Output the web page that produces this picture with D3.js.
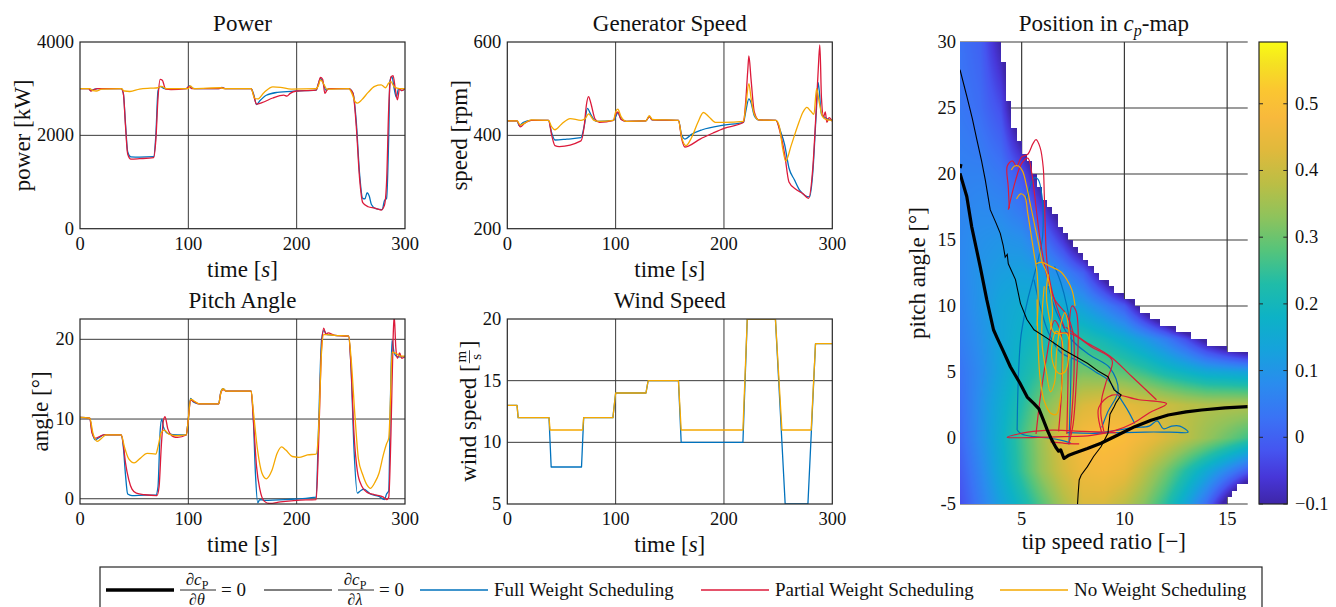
<!DOCTYPE html>
<html>
<head>
<meta charset="utf-8">
<script src="https://cdn.jsdelivr.net/npm/d3@7"></script>
<style>
  body { margin: 0; background: #fff; }
  text { font-family: 'Liberation Serif', 'DejaVu Serif', serif; fill: #111; }
</style>
</head>
<body>
<svg id="fig" width="1336" height="607"></svg>
<script>
// ---------- data ----------
var timeTicks = [0, 100, 200, 300];

var powerFull = [[0,3000],[8,3000],[10,2960],[13,2985],[16,3000],[38,3000],[40,2900],[42,2250],[44,1650],[47,1540],[55,1535],[68,1545],[70,2000],[72,2950],[74,3050],[78,3000],[98,3000],[101,3060],[103,3010],[106,3000],[128,3000],[131,3030],[134,3000],[158,3000],[160,2900],[163,2660],[166,2740],[172,2860],[182,2920],[200,2950],[218,2970],[220,3100],[222,3220],[224,3150],[227,2970],[230,3000],[248,3000],[252,2900],[255,2300],[258,1200],[261,650],[263,640],[265,770],[267,700],[269,520],[273,430],[279,410],[281,600],[283,650],[285,2000],[286,3150],[288,3260],[290,3000],[292,2820],[294,3000],[297,2960],[300,3000]];
var powerPartial = [[0,3000],[8,3000],[10,2950],[13,2980],[16,3000],[38,3000],[40,2900],[42,2200],[44,1600],[47,1490],[55,1500],[68,1525],[70,1900],[72,2800],[74,3200],[76,3180],[79,2990],[84,2980],[98,3000],[101,3050],[103,3000],[128,3000],[131,3020],[134,3000],[158,3000],[160,2880],[163,2670],[168,2700],[178,2800],[188,2860],[191,2840],[194,2900],[200,2950],[218,2970],[220,3100],[222,3240],[224,3200],[226,2900],[228,2970],[230,3000],[248,3000],[252,2900],[255,2200],[258,1100],[261,560],[266,470],[272,440],[278,400],[281,500],[283,1000],[285,2600],[287,3250],[289,3280],[291,3000],[293,2760],[295,3000],[297,2960],[300,3000]];
var powerNo = [[0,3000],[9,3000],[12,2960],[15,2950],[20,2990],[38,3000],[41,2950],[46,2940],[55,2990],[65,3010],[72,3020],[75,3050],[80,3000],[100,3000],[102,3060],[105,3000],[130,3020],[133,3000],[158,3000],[161,2800],[164,2780],[170,2920],[178,3040],[185,3030],[195,2990],[218,3000],[220,3060],[222,3190],[225,3100],[228,2990],[248,3000],[251,2900],[254,2720],[256,2690],[260,2760],[266,2920],[272,3050],[278,3080],[282,3020],[285,3120],[287,3150],[290,3040],[295,3000],[300,3000]];

var speedFull = [[0,431],[9,431],[11,421],[15,428],[22,432],[38,432],[41,405],[44,390],[55,392],[68,395],[71,420],[74,458],[77,445],[82,430],[98,432],[100,440],[102,448],[105,435],[110,430],[128,431],[131,440],[134,433],[158,432],[161,400],[164,392],[170,402],[180,412],[200,422],[218,428],[220,450],[223,478],[225,470],[228,442],[232,433],[248,432],[252,410],[256,380],[260,330],[265,305],[270,282],[279,268],[282,320],[285,440],[287,513],[290,445],[295,436],[300,432]];
var speedPartial = [[0,431],[9,431],[12,418],[16,426],[22,432],[38,432],[41,400],[44,378],[48,376],[68,388],[71,420],[73,465],[75,483],[77,470],[81,435],[85,428],[98,432],[100,445],[102,450],[105,434],[110,430],[128,431],[131,440],[134,433],[158,432],[161,392],[164,375],[168,378],[178,392],[190,405],[200,415],[218,428],[220,470],[222,540],[223,570],[225,520],[228,450],[232,433],[248,432],[252,405],[256,360],[260,300],[266,285],[273,275],[278,265],[282,330],[285,450],[287,540],[288.5,594],[290,480],[292,440],[293.5,450],[295,428],[297,438],[300,430]];
var speedNo = [[0,431],[9,431],[12,422],[16,426],[22,433],[38,432],[41,418],[44,412],[50,424],[58,436],[68,432],[72,436],[75,446],[80,432],[85,430],[98,432],[100,450],[102,456],[105,440],[110,430],[128,431],[131,442],[134,434],[158,432],[161,395],[165,378],[170,395],[176,428],[181,449],[186,440],[192,428],[200,428],[218,430],[220,460],[223,511],[225,480],[228,445],[232,433],[248,432],[251,420],[254,375],[257,345],[262,378],[268,420],[273,450],[276.5,460],[280,452],[283,445],[285.5,500],[288,470],[291,440],[295,433],[300,432]];

var pitchFull = [[0,10.2],[9,10.1],[11,8.5],[14,7.4],[18,7.7],[22,8.0],[38,8.0],[40,6.5],[42,3],[44,0.6],[48,0.4],[60,0.45],[70,0.45],[72,1.5],[74,8.5],[75.5,10.0],[77,9],[81,8.2],[90,8.0],[98,8.0],[100,10],[102,12.6],[105,12.1],[110,11.9],[128,11.9],[130,13.4],[132,13.8],[135,13.5],[158,13.5],[160,10],[162,3],[164,-0.5],[166,-0.1],[170,-0.2],[190,-0.1],[218,0.2],[220,8],[223,20],[225,21.1],[228,20.6],[235,20.5],[248,20.4],[250,17],[253,6],[256,0.7],[259,1.0],[262,1.2],[268,0.6],[276,0.3],[281,-0.1],[283,0.6],[285,1],[286.5,12],[288,19.9],[290,18.3],[293,17.8],[300,17.8]];
var pitchPartial = [[0,10.2],[9,10.1],[11,8.3],[14,7.6],[18,7.8],[22,8.0],[38,8.0],[40,6.8],[42,4.5],[45,2.4],[48,1.2],[52,0.7],[60,0.5],[71,0.4],[73,1.5],[75,6.5],[77,9.8],[78.5,10.3],[81,8.8],[86,7.8],[90,7.7],[98,8.0],[100,10],[102,12.4],[105,12.2],[110,11.9],[128,11.9],[130,13.3],[132,13.7],[135,13.5],[158,13.5],[160,10],[163,4],[166,1.2],[170,-0.3],[175,-0.6],[185,-0.4],[200,-0.2],[218,-0.1],[220,6],[223,19],[225,21.4],[227,20.6],[229,20.8],[235,20.5],[248,20.4],[250,17],[253,8],[256,3.5],[260,1.6],[265,0.8],[272,0.5],[280,0.2],[283,-0.1],[285,0.2],[287,8],[289,20],[290,23],[291.5,19],[293,17.6],[295,18.3],[297,17.6],[300,17.9]];
var pitchNo = [[0,10.2],[9,10.1],[12,8.2],[16,7.2],[20,7.6],[24,8.0],[38,8.0],[41,6.5],[45,5.0],[50,4.5],[55,5.0],[62,5.7],[70,5.6],[72,6.5],[75,8.3],[78,8.6],[82,8.1],[90,7.9],[98,8.0],[100,10],[102,12.5],[105,12.3],[110,11.9],[128,11.9],[130,13.3],[132,13.8],[135,13.5],[158,13.5],[160,11],[164,6],[168,3.2],[172,2.5],[177,3.5],[182,5.7],[186,6.5],[190,6.1],[196,5.3],[202,5.2],[210,5.5],[218,5.6],[220,8],[223,18.5],[225,20.6],[228,20.6],[235,20.5],[248,20.4],[250,18],[254,10],[257,5],[261,3],[265,1.7],[268,1.3],[272,2.0],[276,3.2],[280,5.5],[283,6.9],[285,7.6],[286.5,12],[288,18.4],[292,18.2],[296,17.9],[300,17.9]];

var windFull = [[0,13],[9,13],[10,12],[38.5,12],[40.5,8],[68.5,8],[70.5,12],[97.5,12],[100,14],[128,14],[130,15],[158,15],[160.5,10],[217.5,10],[221.5,20],[247.5,20],[256.5,5],[277.5,5],[284.5,18],[300,18]];
var windNo = [[0,13],[9,13],[10,12],[38.5,12],[39.5,11],[69.5,11],[70.5,12],[97.5,12],[100,14],[128,14],[130,15],[158,15],[160.5,11],[217.5,11],[221.5,20],[247.5,20],[253.5,11],[280.5,11],[284.5,18],[300,18]];

// cp map table (rows: pitch angle, columns: tip speed ratio)
var cpLambda = [2, 3, 4, 5, 6, 7, 8, 9, 10, 11, 12, 13, 14, 15, 16];
var cpTheta = [-5, -2.5, 0, 2.5, 5, 7.5, 10, 12.5, 15, 20, 25, 30];
var cpRowM5  = [-0.03, 0.05, 0.13, 0.20, 0.28, 0.36, 0.42, 0.42, 0.38, 0.32, 0.24, 0.14, 0.02, -0.14, -0.30];
var cpRowM25 = [-0.01, 0.07, 0.16, 0.25, 0.34, 0.41, 0.46, 0.47, 0.45, 0.38, 0.31, 0.23, 0.15, 0.07, -0.01];
var cpRow0   = [0.01, 0.09, 0.17, 0.26, 0.35, 0.43, 0.48, 0.50, 0.49, 0.46, 0.42, 0.38, 0.34, 0.30, 0.26];
var cpRow25  = [0.02, 0.09, 0.16, 0.23, 0.31, 0.37, 0.42, 0.44, 0.44, 0.42, 0.40, 0.38, 0.37, 0.37, 0.37];
var cpRow5   = [0.03, 0.08, 0.14, 0.20, 0.25, 0.29, 0.31, 0.30, 0.28, 0.25, 0.21, 0.18, 0.15, 0.14, 0.13];
var cpRow75  = [0.05, 0.09, 0.14, 0.18, 0.21, 0.23, 0.23, 0.20, 0.16, 0.11, 0.05, -0.03, -0.13, -0.21, -0.28];
var cpRow10  = [0.06, 0.10, 0.14, 0.16, 0.17, 0.16, 0.12, 0.06, -0.01, -0.16, -0.30, -0.45, -0.55, -0.60, -0.65];
var cpRow125 = [0.07, 0.10, 0.12, 0.13, 0.12, 0.07, 0.00, -0.14, -0.30, -0.45, -0.55, -0.60, -0.65, -0.70, -0.75];
var cpRow15  = [0.07, 0.09, 0.10, 0.09, 0.04, -0.06, -0.20, -0.35, -0.50, -0.60, -0.70, -0.75, -0.80, -0.85, -0.90];
var cpRow20  = [0.06, 0.06, 0.04, -0.02, -0.15, -0.30, -0.45, -0.60, -0.70, -0.80, -0.85, -0.90, -0.95, -1.0, -1.0];
var cpRow25b = [0.04, 0.02, -0.03, -0.20, -0.35, -0.50, -0.65, -0.75, -0.85, -0.90, -0.95, -1.0, -1.0, -1.0, -1.0];
var cpRow30  = [0.03, 0.00, -0.105, -0.25, -0.40, -0.55, -0.70, -0.80, -0.90, -1.0, -1.0, -1.0, -1.0, -1.0, -1.0];
var cpRows = [cpRowM5, cpRowM25, cpRow0, cpRow25, cpRow5, cpRow75, cpRow10, cpRow125, cpRow15, cpRow20, cpRow25b, cpRow30];

var colorTicks = [-0.1, 0, 0.1, 0.2, 0.3, 0.4, 0.5];
var cpXTicks = [5, 10, 15];
var cpYTicks = [-5, 0, 5, 10, 15, 20, 25, 30];

// optimality curves (tip speed ratio, pitch angle)
var thickCurve = [[2,20.05],[2.33,18.3],[2.57,16.0],[2.98,13.0],[3.3,10.5],[3.63,8.2],[3.8,7.6],[4.1,6.6],[4.45,5.4],[4.9,4.2],[5.27,3.1],[5.6,2.6],[5.84,2.2],[6.05,1.4],[6.25,0.6],[6.45,-0.1],[6.66,-0.7],[6.8,-1.0],[6.9,-0.9],[7.06,-1.55],[7.3,-1.3],[7.55,-1.15],[8.2,-0.8],[8.86,-0.4],[9.68,0.23],[10.5,0.86],[11.3,1.35],[12.13,1.74],[13.0,1.98],[13.76,2.12],[14.9,2.28],[16,2.37]];
var thickDot = [[2.0,20.45],[2.05,20.75]];
var thinCurve = [[2,27.9],[2.33,25.9],[2.6,24.2],[2.82,22.6],[3.05,21.0],[3.23,19.55],[3.47,17.3],[3.75,16.3],[3.96,15.5],[4.1,14.6],[4.2,13.7],[4.3,13.9],[4.35,13.2],[4.7,12.0],[4.94,10.2],[5.25,9.0],[5.6,8.2],[6.25,7.55],[7.06,6.67],[7.6,6.2],[8.2,5.66],[8.7,5.1],[9.2,4.64],[9.5,3.64],[9.84,3.26],[9.6,2.7],[9.5,2.37],[9.3,1.8],[9.27,1.36],[9.2,0.35],[8.86,-0.66],[8.5,-1.4],[8.2,-2.17],[7.9,-2.8],[7.8,-3.18],[7.75,-4.2],[7.72,-5]];

// operating point trajectories (tip speed ratio, pitch angle)
var trajFull = [
  [[4.78,0.6],[4.8,2.5],[4.85,5],[4.95,7.5],[5.1,9],[5.3,10.5],[5.55,12],[5.8,13.5],[6.0,15],[6.05,16.5],[6.0,18.2],[5.8,19.6],[5.6,19.7],[5.4,19],[5.2,18]],
  [[4.78,0.6],[5.0,0.3],[5.6,0.1],[6.3,0.0],[7.0,-0.2],[7.4,-0.4]],
  [[7.2,0.4],[8.5,0.35],[9.6,0.4],[11.0,0.45],[12.2,0.45],[13.1,0.45],[12.7,0.9],[12.3,0.9],[11.9,0.7],[11.6,1.3],[11.2,0.9],[10.5,0.8],[9.5,0.55],[8.4,0.35]],
  [[5.6,12.0],[5.9,10],[6.3,8],[6.9,6.5],[7.8,5.8],[8.6,5.0],[9.2,4.4],[9.8,3.0],[10.2,2.0],[10.5,1.1]],
  [[6.3,11.5],[6.7,9.5],[7.4,7.5],[8.3,6.3],[9.3,5.3],[9.7,3.6],[9.2,2.0],[8.9,0.8]],
  [[7.3,-0.5],[7.35,2],[7.4,5],[7.4,8],[7.2,10],[6.9,11.8],[6.6,13]]
];
var trajPartial = [
  [[4.4,17.4],[4.35,19],[4.3,20.6],[4.55,21.0],[4.75,20.6],[5.0,21.3],[5.3,21.5],[5.55,22.3],[5.7,22.6],[5.9,22.0],[6.05,20.5],[6.1,18.5],[6.15,16],[6.2,14],[6.3,12.5],[6.5,11],[6.8,9.5],[7.1,8.3]],
  [[4.35,17.3],[4.7,19.5],[5.0,20.8],[5.3,21.2],[5.5,20],[5.7,17.5],[5.9,15],[6.2,12.5],[6.6,10.5],[7.2,9.3],[7.5,8],[7.55,5],[7.45,2],[7.35,0.2]],
  [[7.2,0.3],[7.25,4],[7.3,8],[7.45,10.0],[7.65,9.6],[7.75,8],[7.65,4],[7.5,1],[7.3,-0.4]],
  [[6.6,7.9],[7.4,7.9],[8.4,6.9],[9.4,5.9],[9.1,4.2],[8.9,3.0],[8.85,1.9],[9.0,0.5]],
  [[8.9,0.4],[8.75,2.3],[9.4,3.25],[10.7,2.9],[12.05,2.6],[11.2,1.9],[10.4,1.1],[9.6,0.6],[8.4,0.2],[7.0,0.1],[5.8,0.05],[4.3,0.05],[5.3,0.45],[6.5,0.6],[8.0,0.5],[9.6,0.4]],
  [[7.15,8.4],[8.1,7.3],[9.3,6.2],[10.4,4.6],[11.56,2.9]],
  [[5.7,0.3],[5.9,3],[6.2,6],[6.6,8.9],[6.9,8],[6.95,4],[6.8,0.5]],
  [[6.4,-0.3],[7.1,-0.4],[7.8,-0.45]]
];
var trajNo = [
  [[4.5,20.3],[4.65,20.6],[4.85,20.6],[5.05,20.2],[5.25,19.0],[5.45,17.5],[5.65,16],[5.85,14.5],[6.0,13.3],[6.2,12.6],[6.4,11.2],[6.5,9.5],[6.4,8.2]],
  [[4.75,18.1],[4.95,18.5],[5.15,18.3],[5.3,17],[5.45,15.5],[5.6,14],[5.75,12.5],[5.8,10.5],[5.75,8.5]],
  [[5.7,13.2],[6.0,13.3],[6.4,13.0],[6.9,12.6],[7.2,12.0],[7.45,11.2],[7.6,10]],
  [[5.75,10.5],[5.8,7],[5.9,4.5],[6.1,2.8],[6.4,1.9],[6.7,1.8],[6.9,3.2],[7.0,5.5],[6.95,7.5],[6.7,8.1],[6.5,7.3],[6.5,5.8],[6.8,4.9],[7.1,5.0],[7.3,6.5],[7.2,7.9],[6.6,7.95],[6.3,9.5],[6.2,11.2],[6.3,12.4]],
  [[6.1,11.5],[6.0,9.5],[6.0,7.0],[6.2,5.0],[6.4,3.5],[6.6,4.2],[6.7,6.5],[6.9,8.6],[7.1,9.5],[7.3,8.2],[7.35,6.0]]
];

// parula-like colormap stops (cp value, colour)
var cmapValues = [-0.1, -0.06, -0.02, 0.03, 0.08, 0.13, 0.18, 0.23, 0.28, 0.33, 0.38, 0.43, 0.48, 0.52, 0.56, 0.5926];
var cmapColors = ['#3e26a8','#4736d8','#4555f0','#3a73f5','#2a8cee','#16a2dc','#0db2c6','#20bca8','#55c47b','#8ec35c','#bbbe45','#e0b93c','#f8b93c','#fbc631','#f5e122','#f9fb14'];

// ---------- drawing ----------
var svg = d3.select('#fig');
var blue = '#0072BD', red = '#DC1A3A', orange = '#F5A800';
var gridColor = '#3a3a3a', boxColor = '#262626';
var tickFs = 18.5, labelFs = 23;

function italicLabel(g, parts) {
  parts.forEach(function (p) {
    g.append('tspan').text(p[0]).attr('font-style', p[1] ? 'italic' : null);
  });
}

function timePanel(p) {
  var x = d3.scaleLinear().domain([0, 300]).range([p.left, p.right]);
  var y = d3.scaleLinear().domain(p.yDomain).range([p.bottom, p.top]);
  var g = svg.append('g');
  var clipId = 'clip-' + p.id;
  svg.append('clipPath').attr('id', clipId).append('rect')
      .attr('x', p.left).attr('y', p.top)
      .attr('width', p.right - p.left).attr('height', p.bottom - p.top);

  g.selectAll(null).data([100, 200]).enter().append('line')
      .attr('x1', d => x(d)).attr('x2', d => x(d))
      .attr('y1', p.top).attr('y2', p.bottom)
      .attr('stroke', gridColor).attr('stroke-width', 1);
  g.selectAll(null).data(p.yGrid).enter().append('line')
      .attr('x1', p.left).attr('x2', p.right)
      .attr('y1', d => y(d)).attr('y2', d => y(d))
      .attr('stroke', gridColor).attr('stroke-width', 1);

  var line = d3.line().x(d => x(d[0])).y(d => y(d[1])).curve(p.curve);
  var lg = g.append('g').attr('clip-path', 'url(#' + clipId + ')');
  p.series.forEach(function (s) {
    lg.append('path').attr('d', line(s.data))
        .attr('fill', 'none').attr('stroke', s.color).attr('stroke-width', 1.3)
        .attr('stroke-linejoin', 'round');
  });

  g.append('rect').attr('x', p.left).attr('y', p.top)
      .attr('width', p.right - p.left).attr('height', p.bottom - p.top)
      .attr('fill', 'none').attr('stroke', boxColor).attr('stroke-width', 1.2);

  g.selectAll(null).data(timeTicks).enter().append('text')
      .attr('x', d => x(d)).attr('y', p.bottom + 21)
      .attr('text-anchor', 'middle').attr('font-size', tickFs).text(d => d);
  g.selectAll(null).data(p.yTicks).enter().append('text')
      .attr('x', p.left - 6).attr('y', d => y(d) + 6)
      .attr('text-anchor', 'end').attr('font-size', tickFs).text(d => d);

  g.append('text').attr('x', (p.left + p.right) / 2).attr('y', p.top - 11)
      .attr('text-anchor', 'middle').attr('font-size', labelFs).text(p.title);
  var xl = g.append('text').attr('x', (p.left + p.right) / 2).attr('y', p.bottom + 48)
      .attr('text-anchor', 'middle').attr('font-size', labelFs);
  italicLabel(xl, [['time [', false], ['s', true], [']', false]]);
  if (p.ylabel) {
    g.append('text')
        .attr('transform', 'translate(' + p.ylabelX + ',' + (p.top + p.bottom) / 2 + ') rotate(-90)')
        .attr('text-anchor', 'middle').attr('font-size', labelFs).attr('dy', '0.35em')
        .text(p.ylabel);
  }
  return {x: x, y: y, g: g};
}

timePanel({id: 'power', left: 80, right: 405, top: 42, bottom: 228.7, yDomain: [0, 4000],
  yGrid: [2000], yTicks: [0, 2000, 4000], title: 'Power', ylabel: 'power [kW]', ylabelX: 22,
  curve: d3.curveMonotoneX,
  series: [{data: powerFull, color: blue}, {data: powerPartial, color: red}, {data: powerNo, color: orange}]});

timePanel({id: 'speed', left: 507.3, right: 832.3, top: 42, bottom: 228.7, yDomain: [200, 600],
  yGrid: [400], yTicks: [200, 400, 600], title: 'Generator Speed', ylabel: 'speed [rpm]', ylabelX: 459,
  curve: d3.curveMonotoneX,
  series: [{data: speedFull, color: blue}, {data: speedPartial, color: red}, {data: speedNo, color: orange}]});

timePanel({id: 'pitch', left: 80, right: 405, top: 319, bottom: 504, yDomain: [-0.66, 22.55],
  yGrid: [0, 10, 20], yTicks: [0, 10, 20], title: 'Pitch Angle', ylabel: 'angle [\u00B0]', ylabelX: 40,
  curve: d3.curveMonotoneX,
  series: [{data: pitchFull, color: blue}, {data: pitchPartial, color: red}, {data: pitchNo, color: orange}]});

timePanel({id: 'wind', left: 507.3, right: 832.3, top: 319, bottom: 504, yDomain: [5, 20],
  yGrid: [10, 15], yTicks: [5, 10, 15, 20], title: 'Wind Speed', ylabel: null,
  curve: d3.curveLinear,
  series: [{data: windFull, color: blue}, {data: windNo, color: orange}]});

// wind speed label with stacked m/s fraction
(function () {
  var g = svg.append('g').attr('transform', 'translate(468,411.5) rotate(-90)');
  var inner = g.append('g');
  var t1 = inner.append('text').attr('x', 0).attr('y', 8).attr('font-size', labelFs).text('wind speed [');
  var w1 = t1.node().getComputedTextLength();
  inner.append('text').attr('x', w1 + 7.5).attr('y', -2).attr('text-anchor', 'middle').attr('font-size', 15).text('m');
  inner.append('line').attr('x1', w1 + 1).attr('x2', w1 + 14).attr('y1', 1.5).attr('y2', 1.5)
      .attr('stroke', '#111').attr('stroke-width', 0.8);
  inner.append('text').attr('x', w1 + 7.5).attr('y', 13).attr('text-anchor', 'middle').attr('font-size', 15).text('s');
  inner.append('text').attr('x', w1 + 16).attr('y', 8).attr('font-size', labelFs).text(']');
  var total = w1 + 23;
  inner.attr('transform', 'translate(' + (-total / 2) + ',0)');
})();

// ---------- cp map ----------
var cpLeft = 960, cpRight = 1247.7, cpTop = 42, cpBottom = 504;
var cx = d3.scaleLinear().domain([2, 16]).range([cpLeft, cpRight]);
var cy = d3.scaleLinear().domain([-5, 30]).range([cpBottom, cpTop]);
var colorScale = d3.scaleLinear().domain(cmapValues).range(cmapColors).clamp(true);

function cpAt(l, t) {
  var i = Math.max(0, Math.min(cpLambda.length - 2, d3.bisectRight(cpLambda, l) - 1));
  var j = Math.max(0, Math.min(cpTheta.length - 2, d3.bisectRight(cpTheta, t) - 1));
  var fl = Math.max(0, Math.min(1, (l - cpLambda[i]) / (cpLambda[i + 1] - cpLambda[i])));
  var ft = Math.max(0, Math.min(1, (t - cpTheta[j]) / (cpTheta[j + 1] - cpTheta[j])));
  var a = cpRows[j][i], b = cpRows[j][i + 1], c = cpRows[j + 1][i], d = cpRows[j + 1][i + 1];
  return (a * (1 - fl) + b * fl) * (1 - ft) + (c * (1 - fl) + d * fl) * ft;
}

var cpG = svg.append('g');
cpG.selectAll(null).data(cpXTicks).enter().append('line')
    .attr('x1', d => cx(d)).attr('x2', d => cx(d)).attr('y1', cpTop).attr('y2', cpBottom)
    .attr('stroke', gridColor).attr('stroke-width', 1.2);
cpG.selectAll(null).data(cpYTicks).enter().append('line')
    .attr('x1', cpLeft).attr('x2', cpRight).attr('y1', d => cy(d)).attr('y2', d => cy(d))
    .attr('stroke', gridColor).attr('stroke-width', 1.2);

(function () {
  var W = Math.round(cpRight - cpLeft), H = Math.round(cpBottom - cpTop);
  var canvas = document.createElement('canvas');
  canvas.width = W; canvas.height = H;
  var ctx = canvas.getContext('2d');
  var img = ctx.createImageData(W, H);
  var lut = d3.range(512).map(function (k) {
    return d3.rgb(colorScale(-0.1 + k / 511 * (0.5926 + 0.1)));
  });
  var dl = 0.25, dt = 0.5;
  for (var py = 0; py < H; py++) {
    for (var px = 0; px < W; px++) {
      var l = cx.invert(cpLeft + px + 0.5), t = cy.invert(cpTop + py + 0.5);
      var lc = 2 + (Math.floor((l - 2) / dl) + 0.5) * dl;
      var tc = -5 + (Math.floor((t + 5) / dt) + 0.5) * dt;
      if (cpAt(lc, tc) < -0.1) continue;
      var v = cpAt(l, t);
      var k = Math.max(0, Math.min(511, Math.round((v + 0.1) / 0.6926 * 511)));
      var c = lut[k], o = (py * W + px) * 4;
      img.data[o] = c.r; img.data[o + 1] = c.g; img.data[o + 2] = c.b; img.data[o + 3] = 255;
    }
  }
  ctx.putImageData(img, 0, 0);
  cpG.append('image').attr('x', cpLeft).attr('y', cpTop).attr('width', W).attr('height', H)
      .attr('preserveAspectRatio', 'none').attr('href', canvas.toDataURL());
})();

svg.append('clipPath').attr('id', 'clip-cp').append('rect')
    .attr('x', cpLeft).attr('y', cpTop).attr('width', cpRight - cpLeft).attr('height', cpBottom - cpTop);
var cpLines = cpG.append('g').attr('clip-path', 'url(#clip-cp)');
var cpLine = d3.line().x(d => cx(d[0])).y(d => cy(d[1])).curve(d3.curveCatmullRom.alpha(0.5));
[[trajFull, blue], [trajPartial, red], [trajNo, orange]].forEach(function (s) {
  s[0].forEach(function (stroke) {
    cpLines.append('path').attr('d', cpLine(stroke)).attr('fill', 'none')
        .attr('stroke', s[1]).attr('stroke-width', 1.2);
  });
});
var rawLine = d3.line().x(d => cx(d[0])).y(d => cy(d[1]));
cpLines.append('path').attr('d', rawLine(thinCurve)).attr('fill', 'none')
    .attr('stroke', '#000').attr('stroke-width', 1.1);
cpLines.append('path').attr('d', rawLine(thickCurve)).attr('fill', 'none')
    .attr('stroke', '#000').attr('stroke-width', 3.2).attr('stroke-linejoin', 'round');
cpLines.append('path').attr('d', rawLine(thickDot)).attr('fill', 'none')
    .attr('stroke', '#000').attr('stroke-width', 3.2);

cpG.selectAll(null).data(cpXTicks).enter().append('text')
    .attr('x', d => cx(d)).attr('y', cpBottom + 21).attr('text-anchor', 'middle')
    .attr('font-size', tickFs).text(d => d);
cpG.selectAll(null).data(cpYTicks).enter().append('text')
    .attr('x', cpLeft - 4).attr('y', d => cy(d) + 6).attr('text-anchor', 'end')
    .attr('font-size', tickFs).text(d => d);
var cpTitle = cpG.append('text').attr('x', (cpLeft + cpRight) / 2).attr('y', 31)
    .attr('text-anchor', 'middle').attr('font-size', labelFs);
cpTitle.append('tspan').text('Position in ');
cpTitle.append('tspan').attr('font-style', 'italic').text('c');
cpTitle.append('tspan').attr('font-style', 'italic').attr('font-size', 16).attr('dy', 5).text('p');
cpTitle.append('tspan').attr('dy', -5).text('-map');
cpG.append('text').attr('x', (cpLeft + cpRight) / 2).attr('y', 549).attr('text-anchor', 'middle')
    .attr('font-size', labelFs).text('tip speed ratio [\u2212]');
cpG.append('text').attr('transform', 'translate(917,' + (cpTop + cpBottom) / 2 + ') rotate(-90)')
    .attr('text-anchor', 'middle').attr('dy', '0.35em').attr('font-size', labelFs).text('pitch angle [\u00B0]');

// colorbar
var cbLeft = 1259, cbRight = 1287.3;
var cb = d3.scaleLinear().domain([-0.1, 0.5926]).range([cpBottom, cpTop]);
var grad = svg.append('defs').append('linearGradient').attr('id', 'cbgrad')
    .attr('x1', 0).attr('x2', 0).attr('y1', 1).attr('y2', 0);
cmapValues.forEach(function (v, i) {
  grad.append('stop').attr('offset', (v + 0.1) / 0.6926).attr('stop-color', cmapColors[i]);
});
svg.append('rect').attr('x', cbLeft).attr('y', cpTop).attr('width', cbRight - cbLeft)
    .attr('height', cpBottom - cpTop).attr('fill', 'url(#cbgrad)')
    .attr('stroke', boxColor).attr('stroke-width', 1.2);
svg.selectAll(null).data(colorTicks).enter().append('line')
    .attr('x1', cbRight - 4).attr('x2', cbRight).attr('y1', d => cb(d)).attr('y2', d => cb(d))
    .attr('stroke', boxColor);
svg.selectAll(null).data(colorTicks).enter().append('line')
    .attr('x1', cbLeft).attr('x2', cbLeft + 4).attr('y1', d => cb(d)).attr('y2', d => cb(d))
    .attr('stroke', boxColor);
svg.selectAll(null).data(colorTicks).enter().append('text')
    .attr('x', 1295).attr('y', d => cb(d) + 6).attr('font-size', tickFs)
    .text(d => d3.format('')(Math.round(d * 10) / 10));

// ---------- legend ----------
(function () {
  var lg = svg.append('g');
  lg.append('rect').attr('x', 100).attr('y', 567).attr('width', 1162).attr('height', 60)
      .attr('fill', '#fff').attr('stroke', boxColor).attr('stroke-width', 1.2);
  var ly = 590, lineLen = 68, fs = 19;
  var starts = [106, 264, 420, 701, 1000];
  var items = [
    {type: 'frac', den: '\u2202\u03B8', width: 3.4, color: '#000'},
    {type: 'frac', den: '\u2202\u03BB', width: 1.1, color: '#000'},
    {type: 'text', label: 'Full Weight Scheduling', width: 1.3, color: blue},
    {type: 'text', label: 'Partial Weight Scheduling', width: 1.3, color: red},
    {type: 'text', label: 'No Weight Scheduling', width: 1.3, color: orange}
  ];
  items.forEach(function (it, i) {
    var x0 = starts[i];
    lg.append('line').attr('x1', x0).attr('x2', x0 + lineLen).attr('y1', ly).attr('y2', ly)
        .attr('stroke', it.color).attr('stroke-width', it.width);
    var xt = x0 + lineLen + 6;
    if (it.type === 'frac') {
      var num = lg.append('text').attr('x', xt + 17).attr('y', ly - 5)
          .attr('text-anchor', 'middle').attr('font-size', 17);
      num.append('tspan').text('\u2202');
      num.append('tspan').attr('font-style', 'italic').text('c');
      num.append('tspan').attr('font-size', 12).attr('dy', 4).text('P');
      lg.append('line').attr('x1', xt).attr('x2', xt + 36).attr('y1', ly).attr('y2', ly)
          .attr('stroke', '#111').attr('stroke-width', 0.9);
      lg.append('text').attr('x', xt + 17).attr('y', ly + 15).attr('text-anchor', 'middle')
          .attr('font-size', 16).attr('font-style', 'italic').text(it.den);
      lg.append('text').attr('x', xt + 41).attr('y', ly + 6).attr('font-size', fs).text('= 0');
    } else {
      lg.append('text').attr('x', xt).attr('y', ly + 6).attr('font-size', fs).text(it.label);
    }
  });
})();
</script>
</body>
</html>
